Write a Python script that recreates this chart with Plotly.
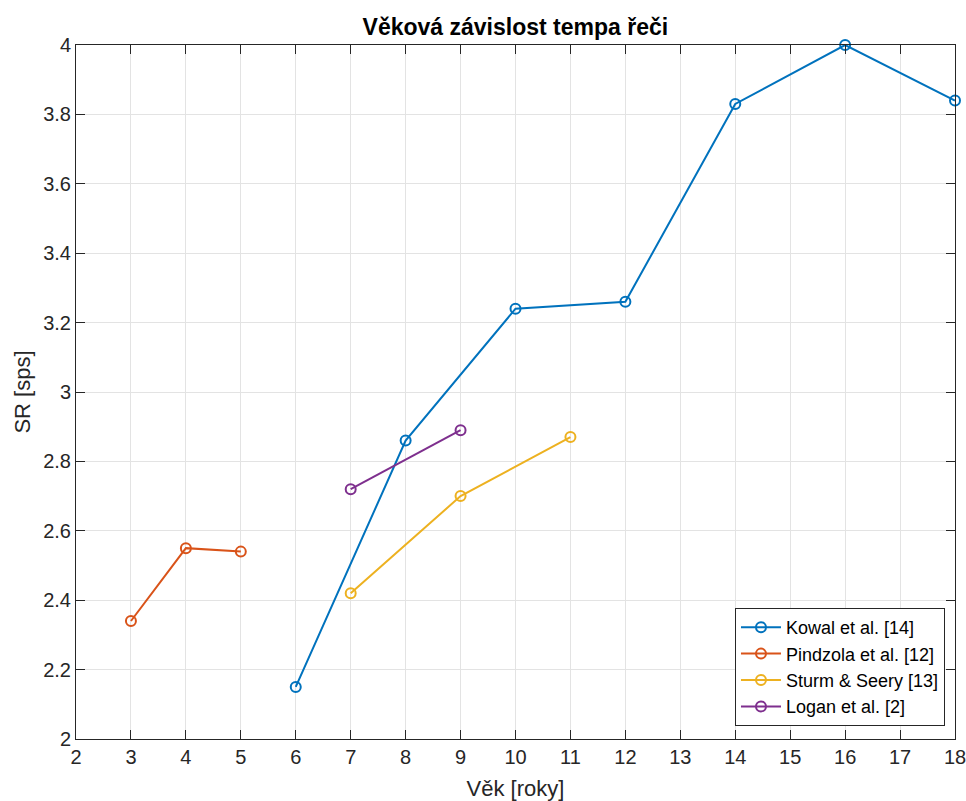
import plotly.graph_objects as go

kowal_x = [6, 8, 10, 12, 14, 16, 18]
kowal_y = [2.15, 2.86, 3.24, 3.26, 3.83, 4.00, 3.84]
pindzola_x = [3, 4, 5]
pindzola_y = [2.34, 2.55, 2.54]
sturm_x = [7, 9, 11]
sturm_y = [2.42, 2.70, 2.87]
logan_x = [7, 9]
logan_y = [2.72, 2.89]

series = [
    ("Kowal et al. [14]", kowal_x, kowal_y, "#0072BD"),
    ("Pindzola et al. [12]", pindzola_x, pindzola_y, "#D95319"),
    ("Sturm & Seery [13]", sturm_x, sturm_y, "#EDB120"),
    ("Logan et al. [2]", logan_x, logan_y, "#7E2F8E"),
]

fig = go.Figure()
for name, xs, ys, col in series:
    fig.add_trace(go.Scatter(
        x=xs, y=ys, name=name, mode="lines+markers",
        line=dict(color=col, width=2),
        marker=dict(symbol="circle-open", size=10, color=col, line=dict(width=2, color=col)),
        cliponaxis=False,
    ))

font_fam = "Liberation Sans, Arial, sans-serif"
axis_common = dict(
    showgrid=True, gridcolor="#e3e3e3", gridwidth=1,
    showline=True, linecolor="#262626", linewidth=1, mirror="ticks",
    ticks="inside", ticklen=9, tickcolor="#262626",
    tickfont=dict(family=font_fam, size=20, color="#262626"),
    zeroline=False, automargin=False, ticklabeloverflow="allow",
)

fig.update_layout(
    width=966, height=801,
    margin=dict(l=76, r=11, t=45, b=62),
    paper_bgcolor="white", plot_bgcolor="white",
    title=dict(text="<b>Věková závislost tempa řeči</b>", x=0.5335, xanchor="center",
               y=1 - 27 / 801, yanchor="middle",
               font=dict(family=font_fam, size=23, color="black")),
    xaxis=dict(range=[2, 18], dtick=1, tick0=2,
               title=dict(text="Věk [roky]", font=dict(family=font_fam, size=22, color="#262626"), standoff=13),
               **axis_common),
    yaxis=dict(range=[2, 4], dtick=0.2, tick0=2,
               title=dict(text="SR [sps]", font=dict(family=font_fam, size=22, color="#262626"), standoff=6),
               **axis_common),
    legend=dict(x=0.9886, y=0.0187, xanchor="right", yanchor="bottom",
                bgcolor="white", bordercolor="#262626", borderwidth=1,
                font=dict(family=font_fam, size=18, color="black"),
                tracegroupgap=0, itemwidth=40),
    showlegend=True,
)

fig.write_html("out.html")
